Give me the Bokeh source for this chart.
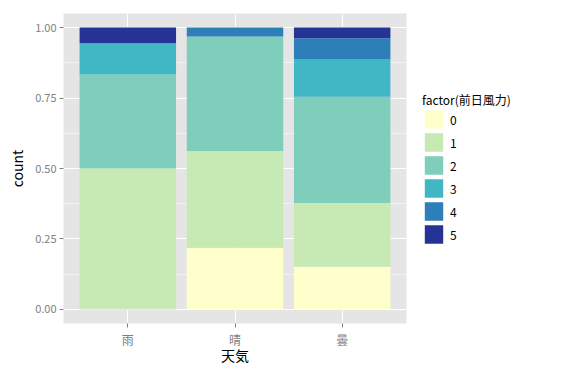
from bokeh.plotting import figure
from bokeh.models import (ColumnDataSource, FactorRange, Range1d, FixedTicker,
                          Legend, NumeralTickFormatter)
from bokeh.embed import file_html
from bokeh.resources import INLINE

# Data (counts; drawn as proportions, ggplot position="fill")
weather = ["雨", "晴", "曇"]
wind_levels = ["0", "1", "2", "3", "4", "5"]
counts_0 = [0, 7, 8]
counts_1 = [9, 11, 12]
counts_2 = [6, 13, 20]
counts_3 = [2, 0, 7]
counts_4 = [0, 1, 4]
counts_5 = [1, 0, 2]
colors = ["#ffffcc", "#c7e9b4", "#7fcdbb", "#41b6c4", "#2c7fb8", "#253494"]
y_ticks = [0.0, 0.25, 0.5, 0.75, 1.0]
y_minor = [0.125, 0.375, 0.625, 0.875]

all_counts = [counts_0, counts_1, counts_2, counts_3, counts_4, counts_5]
totals = [sum(c[i] for c in all_counts) for i in range(len(weather))]
data = {"weather": weather}
for lvl, c in zip(wind_levels, all_counts):
    data[lvl] = [v / t for v, t in zip(c, totals)]
source = ColumnDataSource(data)

FONT = "Noto Sans CJK JP"

p = figure(x_range=FactorRange(factors=weather, range_padding=0.1,
                               range_padding_units="absolute"),
           y_range=Range1d(-0.05, 1.05),
           frame_width=343, frame_height=310,
           min_border_left=63, min_border_top=13, min_border_bottom=55,
           min_border_right=0,
           output_backend="svg", toolbar_location=None)

renderers = p.vbar_stack(wind_levels, x="weather", width=0.9, color=colors,
                         line_color=None, source=source)

p.background_fill_color = "#E5E5E5"
p.border_fill_color = "white"
p.outline_line_color = None

p.xgrid.grid_line_color = "white"
p.xgrid.grid_line_width = 1
p.ygrid.grid_line_color = "white"
p.ygrid.grid_line_width = 1
p.ygrid.minor_grid_line_color = "#F2F2F2"
p.ygrid.minor_grid_line_width = 1

p.yaxis.ticker = FixedTicker(ticks=y_ticks, minor_ticks=y_minor)
p.yaxis.formatter = NumeralTickFormatter(format="0.00")

for ax in (p.xaxis, p.yaxis):
    ax.axis_line_color = None
    ax.major_tick_line_color = "#7F7F7F"
    ax.major_tick_out = 4
    ax.major_tick_in = 0
    ax.minor_tick_line_color = None
    ax.major_label_text_color = "#7F7F7F"
    ax.major_label_text_font = FONT
    ax.major_label_text_font_size = "11px"
    ax.axis_label_text_font = FONT
    ax.axis_label_text_font_style = "normal"
    ax.axis_label_text_color = "black"
    ax.axis_label_text_font_size = "14px"
    ax.major_label_standoff = 3

p.xaxis.axis_label = "天気"
p.yaxis.axis_label = "count"
p.xaxis.axis_label_standoff = -6
p.yaxis.axis_label_standoff = 5
p.xaxis.major_label_text_font_size = "12px"

legend = Legend(items=[(lvl, [r]) for lvl, r in zip(wind_levels, renderers)],
                title="factor(前日風力)", location="center_left")
legend.title_text_font = FONT
legend.title_text_font_size = "12px"
legend.title_text_font_style = "normal"
legend.title_text_color = "black"
legend.title_standoff = 0
legend.label_text_font = FONT
legend.label_text_font_size = "12px"
legend.label_text_color = "black"
legend.glyph_width = 23
legend.glyph_height = 23
legend.spacing = 0
legend.label_standoff = 5
legend.label_height = 23
legend.padding = 10
legend.margin = 16
legend.border_line_color = None
legend.background_fill_alpha = 0
p.add_layout(legend, "right")

open("out.html", "w").write(file_html(p, INLINE))
